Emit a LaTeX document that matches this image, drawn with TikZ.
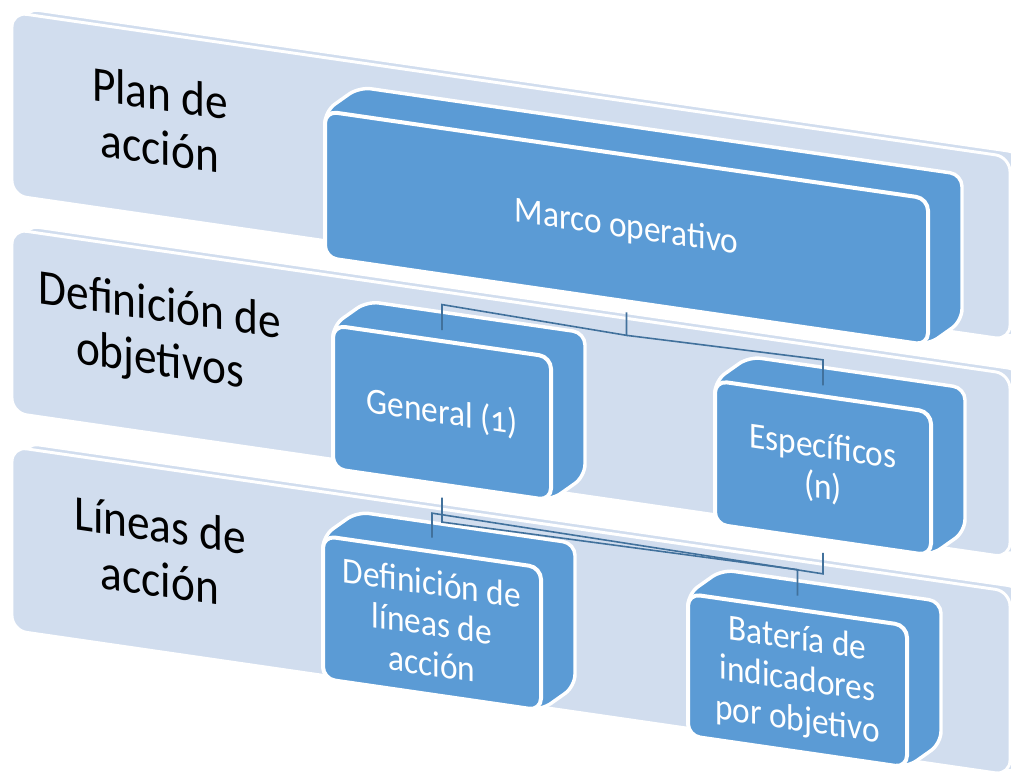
\documentclass[tikz,border=0pt]{standalone}
\usepackage{fontspec}
\setmainfont{Carlito}
\usetikzlibrary{calc}
\definecolor{bandc}{HTML}{D1DDEE}
\definecolor{boxc}{HTML}{5B9BD5}
\definecolor{connc}{HTML}{41719C}
\tikzset{
  band/.style={fill=bandc, draw=white, line width=2.2pt, rounded corners=11pt},
  bandback/.style={fill=bandc, draw=white, line width=1.2pt, rounded corners=11pt},
  hull/.style={fill=boxc, draw=white, line width=2.6pt, rounded corners=9pt, line join=round},
  face/.style={rectangle, fill=boxc, draw=white, line width=3pt, rounded corners=9pt,
    transform shape, inner sep=0pt},
  ftext/.style={transform shape, yscale=1.1, text=white, align=center,
    font=\fontsize{25}{27.6}\selectfont, inner sep=0pt},
  lab/.style={transform shape, yscale=1.1, align=center, font=\fontsize{34}{37.3}\selectfont, text=black},
  conn/.style={draw=connc, line width=1.2pt},
}
\newcommand\slabbox[6]{%
  \pgfmathsetmacro\slw{(#4-#2)*0.75}%
  \pgfmathsetmacro\slh{(#5-#3)*0.75}%
  \path[hull] (#2,#5) -- (#2,#3) -- (#2+34,#3-29) -- (#4+34,#3-29) -- (#4+34,#5-29) -- (#4,#5) -- cycle;
  \node[face, minimum width=\slw pt, minimum height=\slh pt] (#1) at ({(#2+#4)/2},{(#3+#5)/2}) {};
  \node[ftext] (#1-t) at (#1.center) {#6};
}
\newcommand\bandstrip[2]{%
  \path[bandback] (24,#1-5) rectangle (1022,#2-5);
  \path[band] (12,#1) rectangle (1010,#2);
}
\begin{document}
\begin{tikzpicture}[x=0.75pt, y=-0.75pt]
\useasboundingbox (0,0) rectangle (1011,776);
\begin{scope}[yslant=-0.145]
  % bands
  \bandstrip{10.5}{193.5}
  \bandstrip{227.5}{411}
  \bandstrip{445}{628.5}
  % labels
  \node[lab] (l1) at (160,97) {Plan de\\acción};
  \node[lab] (l2) at (160,312) {Definición de\\objetivos};
  \node[lab] (l3) at (160,529) {Líneas de\\acción};
  % boxes
  \slabbox{marco}{325}{64}{928}{210.5}{Marco operativo}
  \slabbox{general}{333}{277}{551}{420.5}{General ({\addfontfeatures{Numbers=OldStyle}1})}
  \slabbox{espec}{715}{277}{931}{420.5}{Específicos\\(n)}
  \slabbox{defin}{323}{489}{541}{632}{Definición de\\líneas de\\acción}
  \slabbox{bater}{688}{494}{907}{636}{Batería de\\indicadores\\por objetivo}
  % connectors
  \draw[conn] ($(marco.south)+(0,9)$) -- ($(marco.south)+(0,32)$) -- ($(general.north)+(0,-34.5)$) -- ($(general.north)+(0,-9)$);
  \draw[conn] ($(marco.south)+(0,32)$) -- ($(espec.north)+(0,-34.5)$) -- ($(espec.north)+(0,-9)$);
  \draw[conn] ($(general.south)+(0,11)$) -- ($(general.south)+(0,35.5)$) -- ($(bater.north)+(0,-38)$) -- ($(bater.north)+(0,-12)$);
  \draw[conn] ($(espec.south)+(0,11)$) -- ($(espec.south)+(0,32)$) -- ($(defin.north)+(0,-36.5)$) -- ($(defin.north)+(0,-12)$);
\end{scope}
\end{tikzpicture}
\end{document}
